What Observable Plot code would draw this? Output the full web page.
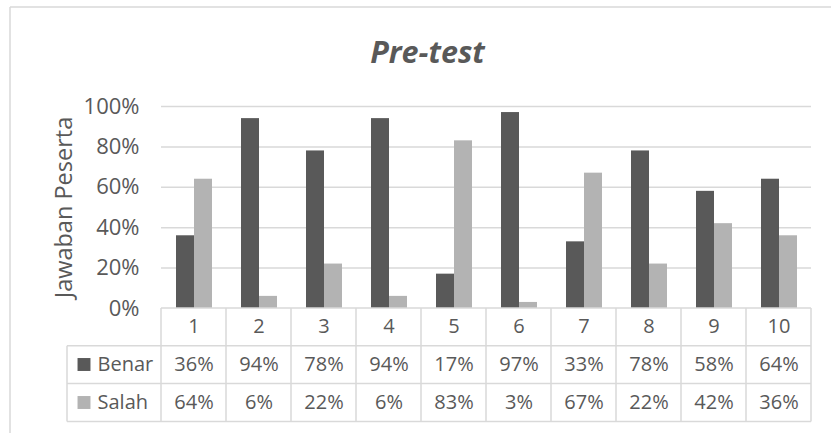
<!DOCTYPE html>
<html><head><meta charset="utf-8">
<script src="https://cdn.jsdelivr.net/npm/d3@7"></script>
<script src="https://cdn.jsdelivr.net/npm/@observablehq/plot@0.6"></script>
<style>body{margin:0;background:#fff} svg{display:block}</style>
</head><body><div id="chart"></div>
<script>
const categories = ["1","2","3","4","5","6","7","8","9","10"];
const series = ["Benar","Salah"];
const benar = [0.36,0.94,0.78,0.94,0.17,0.97,0.33,0.78,0.58,0.64];
const salah = [0.64,0.06,0.22,0.06,0.83,0.03,0.67,0.22,0.42,0.36];
const yTicks = [0.2,0.4,0.6,0.8,1];
const yLabels = [0,0.2,0.4,0.6,0.8,1];
const colors = ["#595959","#b3b3b3"];
const titleText = "Pre-test";
const yTitle = "Jawaban Peserta";

const pct = v => Math.round(v*100) + "%";
const data = categories.flatMap((c,i)=>[{q:c,s:series[0],v:benar[i]},{q:c,s:series[1],v:salah[i]}]);
const ink = "#595959";
const line = "#d9d9d9";

const chart = Plot.plot({
  width: 831, height: 433,
  marginTop: 106, marginBottom: 125, marginLeft: 160, marginRight: 19,
  style: {fontFamily: "'Open Sans', sans-serif", fontSize: "20px", color: ink, background: "#fff", overflow: "visible"},
  fx: {domain: categories, paddingInner: 0, paddingOuter: 0, axis: null, label: null},
  x: {domain: series, paddingInner: 0, paddingOuter: 0.8, axis: null, label: null},
  y: {domain: [0,1], axis: null, label: null},
  color: {domain: series, range: colors},
  marks: [
    Plot.gridY(yTicks, {stroke: line, strokeOpacity: 1, strokeWidth: 1.5}),
    Plot.barY(data, {fx: "q", x: "s", y: "v", fill: "s"}),
    Plot.text(yLabels, {fx: yLabels.map(()=>categories[0]), y: d=>d, text: pct, frameAnchor: "left", dx: -22, textAnchor: "end", lineAnchor: "middle", fontSize: 22, fill: ink}),
    Plot.text([yTitle], {fx: [categories[0]], frameAnchor: "left", rotate: -90, dx: -97, textAnchor: "middle", lineAnchor: "middle", fontSize: 23.5, fill: ink}),
    Plot.text([titleText], {fx: [categories[0]], frameAnchor: "top-left", dx: 266, dy: -44, textAnchor: "middle", lineAnchor: "bottom", fontSize: 30.5, fontWeight: "bold", fontStyle: "italic", fill: ink}),
    Plot.text(categories, {fx: d=>d, text: d=>d, frameAnchor: "bottom", dy: 18, lineAnchor: "middle", fill: ink}),
    Plot.text(categories, {fx: d=>d, text: (d,i)=>pct(benar[i]), frameAnchor: "bottom", dy: 56, lineAnchor: "middle", fill: ink}),
    Plot.text(categories, {fx: d=>d, text: (d,i)=>pct(salah[i]), frameAnchor: "bottom", dy: 94, lineAnchor: "middle", fill: ink}),
    Plot.text([series[0]], {fx: [categories[0]], frameAnchor: "bottom-left", dx: -64, dy: 56, textAnchor: "start", lineAnchor: "middle", fill: ink}),
    Plot.text([series[1]], {fx: [categories[0]], frameAnchor: "bottom-left", dx: -64, dy: 94, textAnchor: "start", lineAnchor: "middle", fill: ink}),
    Plot.dot([series[0]], {fx: [categories[0]], frameAnchor: "bottom-left", dx: -77.5, dy: 56, symbol: "square", r: 7.3, fill: colors[0], stroke: null}),
    Plot.dot([series[1]], {fx: [categories[0]], frameAnchor: "bottom-left", dx: -77.5, dy: 94, symbol: "square", r: 7.3, fill: colors[1], stroke: null})
  ]
});

// table grid and chart border, positioned from the plot's own scales
const fx = chart.scale("fx");
const ys = chart.scale("y");
const bw = fx.bandwidth;
const x0 = fx.apply(categories[0]);
const x1 = fx.apply(categories[categories.length-1]) + bw;
const yTop = ys.apply(0);
const rowH = 37.8;
const legendLeft = 67;
const g = d3.select(chart).append("g").attr("stroke", line).attr("stroke-width", 1.5).attr("fill", "none");
const seg = (a,b,c,d) => g.append("line").attr("x1",a).attr("y1",b).attr("x2",c).attr("y2",d);
seg(x0, yTop, x1, yTop);
for (let k = 1; k <= 3; k++) seg(legendLeft, yTop + k*rowH, x1, yTop + k*rowH);
categories.forEach(c => seg(fx.apply(c), yTop, fx.apply(c), yTop + 3*rowH));
seg(x1, yTop, x1, yTop + 3*rowH);
seg(legendLeft, yTop + rowH, legendLeft, yTop + 3*rowH);
// outer chart border
seg(10, 7, 831, 7);
seg(10, 7, 10, 433);

document.getElementById("chart").appendChild(chart);
</script>
</body></html>
